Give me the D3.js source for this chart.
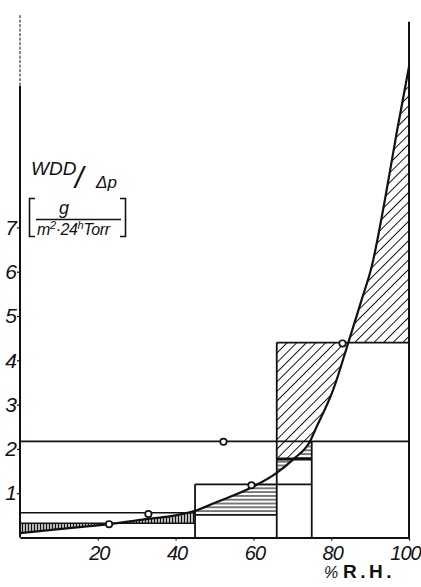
<!DOCTYPE html>
<html>
<head>
<meta charset="utf-8">
<script src="https://cdn.jsdelivr.net/npm/d3@7"></script>
<style>
  html, body { margin: 0; padding: 0; background: #fff; }
  svg { display: block; }
  .num { font-family: "Liberation Sans", Arial, sans-serif; font-style: italic; font-size: 20px; fill: #111; letter-spacing: -1px; }
  .lab { font-family: "Liberation Sans", Arial, sans-serif; fill: #111; }
</style>
</head>
<body>
<svg id="chart" width="421" height="587"></svg>
<script>
// Permeance curve: relative humidity (%) vs WDD/Δp
const curveRH  = [0, 10, 22.7, 33, 40, 45, 50, 60, 66, 70.3, 74.6, 76, 80.5, 84.4, 87.8, 90.4, 93.8, 96.8, 100];
const curveWDD = [0.1, 0.19, 0.3, 0.42, 0.5, 0.6, 0.78, 1.15, 1.46, 1.77, 2.18, 2.45, 3.33, 4.4, 5.36, 6.11, 7.62, 9.12, 10.63];

// Measured points (open circles)
const pointRH  = [22.9, 33.0, 52.3, 59.5, 82.9];
const pointWDD = [0.30, 0.53, 2.16, 1.18, 4.38];

// Step levels: horizontal segments [level, fromRH, toRH]
const stepLevel = [2.17, 0.56, 0.51, 0.32, 1.2, 4.4];
const stepFrom  = [0,    0,    45,   0,    45,  66];
const stepTo    = [100,  45,   66,   45,   75,  100];

// Bold interval level between 66 % and 75 %
const boldLevel = 1.77, boldFrom = 66, boldTo = 75;

// Vertical segments [RH, up to level]
const edgeRH    = [45, 66, 75];
const edgeTop   = [1.2, 4.4, 2.17];

// Hatched difference regions: RH range, level range, side of curve
const hatchFrom = [0, 0, 45, 66, 66, 66, 66];
const hatchTo   = [45, 45, 66, 75, 75, 100, 100];
const hatchLow  = [0.32, 0, 0.51, 1.77, 0, 1.77, 4.4];
const hatchHigh = [2, 0.32, 1.2, 2.17, 1.77, 4.4, 13];
const hatchSide = ["below", "above", "below", "below", "above", "above", "below"];
const hatchKind = ["vert", "vert", "horiz", "horiz", "horiz", "diag", "diag"];

const xTicks = [20, 40, 60, 80, 100];
const yTicks = [1, 2, 3, 4, 5, 6, 7];

const svg = d3.select("#chart");
const x = d3.scaleLinear().domain([0, 100]).range([20, 409]);
const y = d3.scaleLinear().domain([0, 10]).range([537.5, 94.5]);

const defs = svg.append("defs");
function pattern(id, w, rot, sw) {
  const p = defs.append("pattern").attr("id", id)
    .attr("patternUnits", "userSpaceOnUse")
    .attr("width", w).attr("height", w)
    .attr("patternTransform", `rotate(${rot})`);
  p.append("line").attr("x1", w / 2).attr("x2", w / 2).attr("y1", -1).attr("y2", w + 1)
    .attr("stroke", "#111").attr("stroke-width", sw);
}
pattern("vert", 3, 0, 1.6);
pattern("horiz", 3.8, 90, 1.1);
pattern("diag", 6.8, 45, 1.0);

const curvePts = curveRH.map((r, i) => [r, curveWDD[i]]);
const interp = d3.curveMonotoneX;
const line = d3.line().x(d => x(d[0])).y(d => y(d[1])).curve(interp);
const areaBelow = d3.area().x(d => x(d[0])).y0(y(-1)).y1(d => y(d[1])).curve(interp);
const areaAbove = d3.area().x(d => x(d[0])).y0(y(13)).y1(d => y(d[1])).curve(interp);

defs.append("clipPath").attr("id", "below").append("path").attr("d", areaBelow(curvePts));
defs.append("clipPath").attr("id", "above").append("path").attr("d", areaAbove(curvePts));

// Hatching
const hatchG = svg.append("g");
hatchFrom.forEach((f, i) => {
  hatchG.append("g").attr("clip-path", `url(#${hatchSide[i]})`)
    .append("rect")
    .attr("x", x(f)).attr("width", x(hatchTo[i]) - x(f))
    .attr("y", y(hatchHigh[i])).attr("height", y(hatchLow[i]) - y(hatchHigh[i]))
    .attr("fill", `url(#${hatchKind[i]})`);
});

// Step lines
const g = svg.append("g").attr("stroke", "#111").attr("fill", "none");
stepLevel.forEach((v, i) => {
  g.append("line").attr("x1", x(stepFrom[i])).attr("x2", x(stepTo[i]))
    .attr("y1", y(v)).attr("y2", y(v)).attr("stroke-width", 1.6);
});
g.append("line").attr("x1", x(boldFrom)).attr("x2", x(boldTo))
  .attr("y1", y(boldLevel)).attr("y2", y(boldLevel)).attr("stroke-width", 3);
edgeRH.forEach((r, i) => {
  g.append("line").attr("x1", x(r)).attr("x2", x(r))
    .attr("y1", y(0)).attr("y2", y(edgeTop[i])).attr("stroke-width", 1.8);
});

// Frame: left axis, right axis
g.append("line").attr("x1", x(0)).attr("x2", x(0)).attr("y1", y(0)).attr("y2", y(10.2)).attr("stroke-width", 2);
g.append("line").attr("x1", x(0)).attr("x2", x(0)).attr("y1", y(10.2)).attr("y2", y(11.8))
  .attr("stroke-width", 1).attr("stroke-dasharray", "3,1.5");
g.append("line").attr("x1", x(100)).attr("x2", x(100)).attr("y1", y(0)).attr("y2", y(11.64)).attr("stroke-width", 2);

// Curve
svg.append("path").attr("d", line(curvePts)).attr("fill", "none")
  .attr("stroke", "#111").attr("stroke-width", 2.2);

// Points
svg.append("g").selectAll("circle").data(pointRH).join("circle")
  .attr("cx", d => x(d)).attr("cy", (d, i) => y(pointWDD[i])).attr("r", 3.2)
  .attr("fill", "#fff").attr("stroke", "#111").attr("stroke-width", 1.7);

// Axes
const xAxis = svg.append("g").attr("transform", `translate(0,${y(0)})`)
  .call(d3.axisBottom(x).tickValues(xTicks).tickSize(3).tickSizeOuter(0).tickPadding(5));
xAxis.select(".domain").attr("stroke", "#111").attr("stroke-width", 2.2);
xAxis.selectAll(".tick line").attr("stroke", "#111").attr("stroke-width", 1.2);
xAxis.selectAll(".tick text").attr("class", "num").attr("font-size", null).attr("font-family", null)
  .attr("dy", "0.71em").attr("dx", d => d === 100 ? -4 : 1);

const yAxis = svg.append("g").attr("transform", `translate(${x(0)},0)`)
  .call(d3.axisLeft(y).tickValues(yTicks).tickSize(3).tickPadding(1));
yAxis.select(".domain").remove();
yAxis.selectAll(".tick line").attr("stroke", "#111").attr("stroke-width", 1.2);
yAxis.selectAll(".tick text").attr("class", "num").attr("font-size", null).attr("font-family", null)
  .style("font-size", "21px");

// Axis titles
svg.append("text").attr("class", "lab").attr("x", 324).attr("y", 578)
  .attr("font-size", 16).attr("font-style", "italic").text("%");
svg.append("text").attr("class", "lab").attr("x", 343).attr("y", 578)
  .attr("font-size", 19).attr("font-weight", "bold").attr("letter-spacing", "3.5").text("R.H.");

svg.append("text").attr("class", "lab").attr("font-style", "italic")
  .attr("x", 31).attr("y", 175).attr("font-size", 19).text("WDD");
svg.append("text").attr("class", "lab").attr("font-style", "italic")
  .attr("x", 75).attr("y", 188).attr("font-size", 30).text("/");
svg.append("text").attr("class", "lab").attr("font-style", "italic")
  .attr("x", 96).attr("y", 188).attr("font-size", 17).text("Δp");

// Unit in brackets
const br = svg.append("g").attr("stroke", "#111").attr("fill", "none").attr("stroke-width", 1.6);
br.append("path").attr("d", "M35,198.5 H29.5 V236.5 H35");
br.append("path").attr("d", "M120,198.5 H125.5 V236.5 H120");
svg.append("text").attr("class", "lab").attr("font-style", "italic")
  .attr("x", 64).attr("y", 214).attr("font-size", 18).attr("text-anchor", "middle").text("g");
svg.append("line").attr("x1", 36).attr("x2", 121).attr("y1", 219.5).attr("y2", 219.5)
  .attr("stroke", "#111").attr("stroke-width", 1.5);
const den = svg.append("text").attr("class", "lab").attr("font-style", "italic")
  .attr("x", 37).attr("y", 235).attr("font-size", 16).attr("letter-spacing", "-0.4");
den.append("tspan").text("m");
den.append("tspan").attr("dy", -6).attr("font-size", 11).text("2");
den.append("tspan").attr("dy", 6).text("·24");
den.append("tspan").attr("dy", -6).attr("font-size", 11).text("h");
den.append("tspan").attr("dy", 6).text("Torr");
</script>
</body>
</html>
